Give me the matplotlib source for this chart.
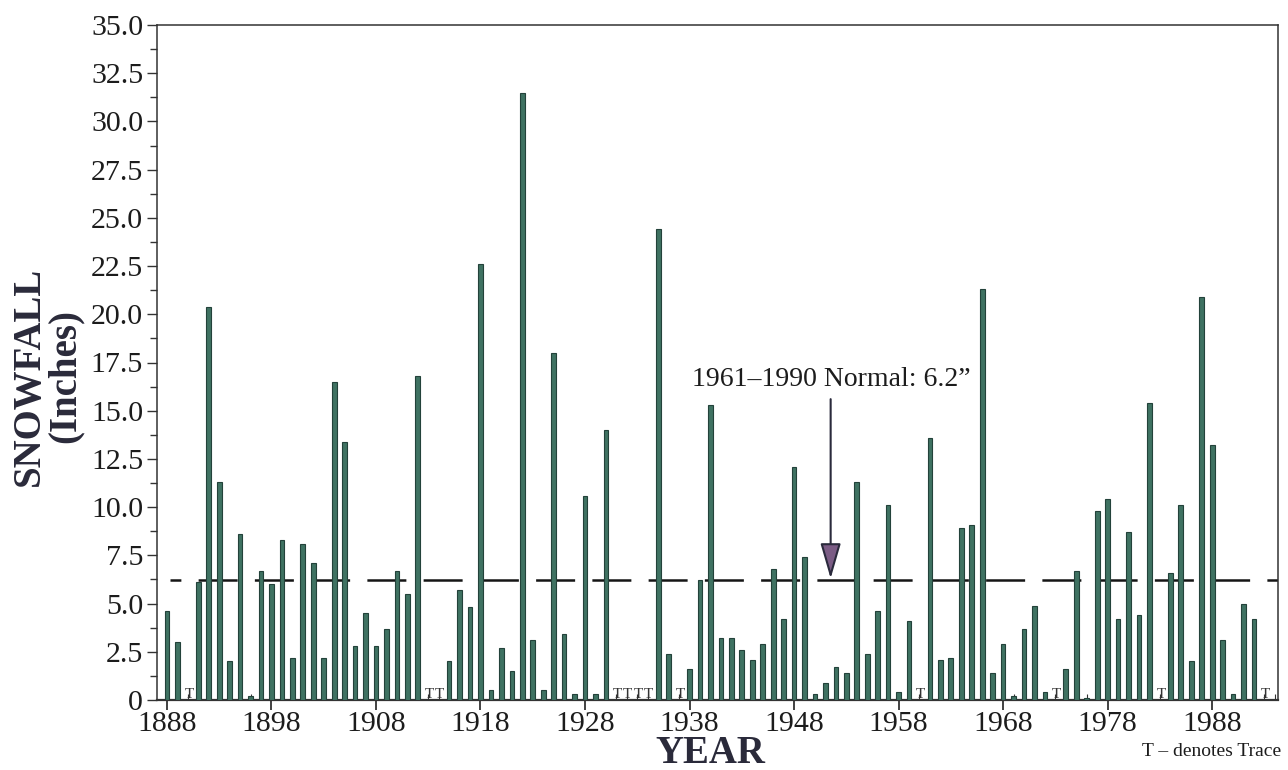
import numpy as np
import matplotlib
matplotlib.use("Agg")
import matplotlib.pyplot as plt
from matplotlib import ticker

plt.rcParams["font.family"] = ["Liberation Serif", "DejaVu Serif"]

# seasonal snowfall, inches; None = trace
years = list(range(1888, 1994))
snowfall = [
    4.6, 3.0, None, 6.1, 20.4, 11.3, 2.0, 8.6, 0.2, 6.7,      # 1888-1897
    6.0, 8.3, 2.2, 8.1, 7.1, 2.2, 16.5, 13.4, 2.8, 4.5,       # 1898-1907
    2.8, 3.7, 6.7, 5.5, 16.8, None, None, 2.0, 5.7, 4.8,      # 1908-1917
    22.6, 0.5, 2.7, 1.5, 31.5, 3.1, 0.5, 18.0, 3.4, 0.3,      # 1918-1927
    10.6, 0.3, 14.0, None, None, None, None, 24.4, 2.4, None,  # 1928-1937
    1.6, 6.2, 15.3, 3.2, 3.2, 2.6, 2.1, 2.9, 6.8, 4.2,        # 1938-1947
    12.1, 7.4, 0.3, 0.9, 1.7, 1.4, 11.3, 2.4, 4.6, 10.1,      # 1948-1957
    0.4, 4.1, None, 13.6, 2.1, 2.2, 8.9, 9.1, 21.3, 1.4,      # 1958-1967
    2.9, 0.2, 3.7, 4.9, 0.4, None, 1.6, 6.7, 0.1, 9.8,        # 1968-1977
    10.4, 4.2, 8.7, 4.4, 15.4, None, 6.6, 10.1, 2.0, 20.9,    # 1978-1987
    13.2, 3.1, 0.3, 5.0, 4.2, None,                            # 1988-1993
]
normal = 6.2
normal_label = "1961\u20131990 Normal: 6.2\u201d"
year_ticks = [1888, 1898, 1908, 1918, 1928, 1938, 1948, 1958, 1968, 1978, 1988]

vals = np.array([np.nan if v is None else v for v in snowfall])
trace_years = [y for y, v in zip(years, snowfall) if v is None]

txt = "#1c1c1c"
fig = plt.figure(figsize=(12.88, 7.70), dpi=100)
ax = fig.add_axes([157 / 1288, 1 - 700 / 770, 1121 / 1288, 675 / 770])

ax.bar(years, np.nan_to_num(vals), width=0.45, color="#3f7262",
       edgecolor="#23423a", linewidth=0.8, zorder=3)
for y in trace_years:
    ax.text(y + 0.1, 0.08, "T", ha="center", va="baseline", fontsize=11,
            color="#333333", zorder=4)

# normal line
ax.plot([1888.3, 1994.3], [normal, normal], color="#151515", linewidth=1.8,
        linestyle=(11.25, (15.6, 6.9)), zorder=2, dash_capstyle="butt")

ax.annotate("", xy=(1951.5, normal + 0.1), xytext=(1951.5, 15.6),
            arrowprops=dict(arrowstyle="-|>,head_length=1.1,head_width=0.32",
                            mutation_scale=20, fc="#7b5c85", ec="#2a2a3c",
                            lw=1.5, shrinkA=0, shrinkB=0), zorder=5)
ax.text(1951.6, 16.6, normal_label, ha="center", va="center", fontsize=20,
        color=txt)

ax.set_xlim(1887.05, 1994.3)
ax.set_ylim(0, 35)

ax.yaxis.set_major_locator(ticker.MultipleLocator(2.5))
ax.yaxis.set_minor_locator(ticker.MultipleLocator(1.25))
ax.yaxis.set_major_formatter(
    ticker.FuncFormatter(lambda v, p: "0" if v == 0 else "%.1f" % v))
ax.set_xticks(year_ticks)
ax.xaxis.set_minor_locator(ticker.MultipleLocator(1))

ax.tick_params(axis="y", which="major", direction="out", length=7, width=1,
               labelsize=21.5, pad=3, colors="#333333", labelcolor=txt)
ax.tick_params(axis="y", which="minor", direction="out", length=5, width=1,
               colors="#333333")
ax.tick_params(axis="x", which="major", direction="out", length=7, width=1.3,
               labelsize=21.5, pad=1, colors="#333333", labelcolor=txt)
ax.tick_params(axis="x", which="minor", direction="in", length=4, width=0.8,
               colors="#333333")
for s in ax.spines.values():
    s.set_color("#333333")
    s.set_linewidth(1.1)
ax.spines["bottom"].set_linewidth(1.6)

fig.text(47 / 1288, 1 - 376 / 770, "SNOWFALL\n(Inches)", rotation=90,
         ha="center", va="center", multialignment="center", fontsize=28,
         fontweight="bold", color="#2a2a3a", linespacing=0.95)
fig.text(710 / 1288, 1 - 763 / 770, "YEAR", ha="center", va="baseline",
         fontsize=28, fontweight="bold", color="#2a2a3a")
fig.text(1281 / 1288, 1 - 752 / 770, "T \u2013 denotes Trace", ha="right",
         va="center", fontsize=14, color=txt)

fig.savefig("out.png", dpi=100)
